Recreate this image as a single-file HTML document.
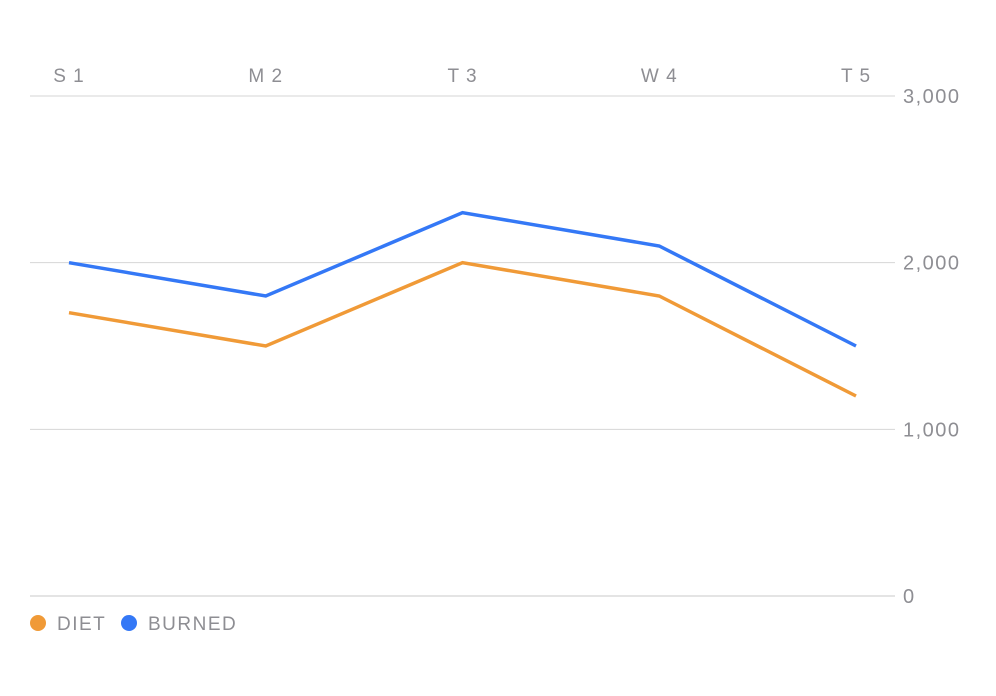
<!DOCTYPE html>
<html><head><meta charset="utf-8"><style>
html,body{margin:0;padding:0;background:#fff;}
svg{display:block;font-family:"Liberation Sans",sans-serif;}
</style></head><body>
<svg id="chart" width="996" height="696"></svg>
<script>
const categories = ["S 1","M 2","T 3","W 4","T 5"];
const dietValues = [1700,1500,2000,1800,1200];
const burnedValues = [2000,1800,2300,2100,1500];
const yTicks = [0,1000,2000,3000];
const yTickLabels = ["0","1,000","2,000","3,000"];

const NS="http://www.w3.org/2000/svg";
const svg=document.getElementById('chart');
const y0=596, yTop=96, yMax=3000;
const x0=69, xStep=196.75;
const yScale=v=>y0-(v/yMax)*(y0-yTop);
const xScale=i=>x0+i*xStep;
function mk(tag,attrs){const e=document.createElementNS(NS,tag);for(const k in attrs)e.setAttribute(k,attrs[k]);svg.appendChild(e);return e;}

yTicks.forEach((t,i)=>{
  const l=mk('line',{x1:30,x2:895,y1:yScale(t),y2:yScale(t),stroke:i===0?'#c8c8c8':'#d6d6d6','stroke-width':1});
  
  
  const tx=mk('text',{x:903,y:yScale(t)+7,fill:'#8e8e93','font-size':20,'letter-spacing':1.5});
  tx.textContent=yTickLabels[i];
  
  
});
categories.forEach((c,i)=>{
  const tx=mk('text',{x:xScale(i),y:82,fill:'#8e8e93','font-size':19,'text-anchor':'middle','letter-spacing':1});
  tx.textContent=c;
  
  
});
function series(vals,color,name){
  const p=mk('polyline',{points:vals.map((v,i)=>xScale(i)+','+yScale(v)).join(' '),fill:'none',stroke:color,'stroke-width':3.5,'stroke-linejoin':'miter'});
  
  
}
series(dietValues,'#F09A37','diet-line');
series(burnedValues,'#3478F6','burned-line');

const d1=mk('circle',{cx:38,cy:623,r:8,fill:'#F09A37'});


const t1=mk('text',{x:57,y:630,fill:'#8e8e93','font-size':19,'letter-spacing':1.5});
t1.textContent='DIET';


const d2=mk('circle',{cx:129,cy:623,r:8,fill:'#3478F6'});


const t2=mk('text',{x:148,y:630,fill:'#8e8e93','font-size':19,'letter-spacing':1.5});
t2.textContent='BURNED';


</script>
</body></html>
